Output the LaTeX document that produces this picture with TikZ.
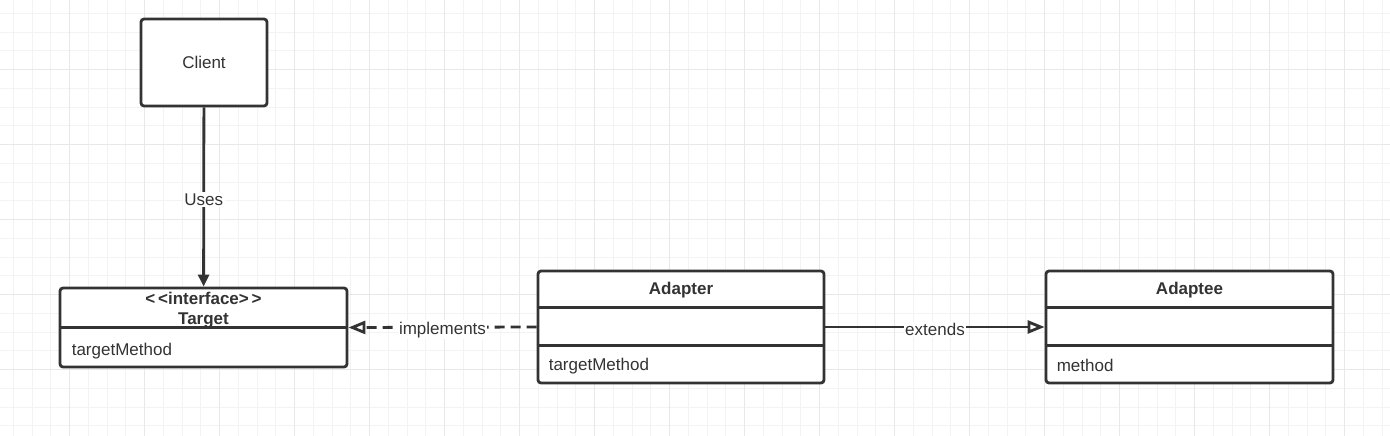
\documentclass[tikz,border=0pt]{standalone}
\usepackage{fontspec}
\setmainfont{Liberation Sans}
\usetikzlibrary{arrows.meta,positioning,calc}

\definecolor{ink}{HTML}{333333}
\definecolor{gridminor}{HTML}{F3F3F3}
\definecolor{gridmajor}{HTML}{E8E8E8}

\tikzset{
	umlbox/.style={draw=ink, line width=2.8pt, rounded corners=3pt, fill=white, inner sep=0pt},
	boxtext/.style={text=ink, inner sep=0pt, font=\fontsize{17}{20}\selectfont},
	titletext/.style={boxtext, align=center, font=\bfseries\fontsize{17}{20}\selectfont},
	edgelabel/.style={boxtext, fill=white, inner sep=1.5pt, yshift=-2.5pt},
	link/.style={draw=ink, line width=2.8pt},
	realize/.style={link, dash pattern=on 10pt off 6pt},
	openhead/.style={-{Triangle[open, fill=white, width=13pt, length=17pt]}},
	usehead/.style={-{Triangle[width=11pt, length=12pt]}},
}

\begin{document}
\begin{tikzpicture}[x=1pt, y=-1pt]
			%%%%% GRID %%%%%
			\useasboundingbox (0,0) rectangle (1390,436);
			\fill[white] (0,0) rectangle (1390,436);
			\foreach \i in {0,...,73} {
				\draw[gridminor, line width=1pt] ({13.3+18.75*\i},0) -- ++(0,436);
			}
			\foreach \j in {0,...,22} {
				\draw[gridminor, line width=1pt] (0,{13.3+18.75*\j}) -- ++(1390,0);
			}
			\foreach \i in {0,...,18} {
				\draw[gridmajor, line width=1pt] ({69.7+75*\i},0) -- ++(0,436);
			}
			\foreach \j in {0,...,5} {
				\draw[gridmajor, line width=1pt] (0,{69.7+75*\j}) -- ++(1390,0);
			}
			
			%%%%% CLASSES %%%%%
			\node[umlbox, boxtext, minimum width=126pt, minimum height=87pt] (client) at (204, 62.5) {Client};
			
			\node[umlbox, minimum width=287pt, minimum height=79pt] (target) at (203.5, 327.5) {};
			\draw[link] ([yshift=-41pt]target.north west) -- ([yshift=-41pt]target.north east);
			\node[titletext] (targettitle) at ($(target.north)+(0,24)$) {{<}\,{<}interface{>}\,{>}\\Target};
			\node[boxtext, anchor=west] (targetop) at ($(target.south west)+(13,-17)$) {targetMethod};
			
			\node[umlbox, minimum width=286pt, minimum height=112pt] (adapter) at (681, 327) {};
			\draw[link] ([yshift=-38pt]adapter.north west) -- ([yshift=-38pt]adapter.north east);
			\draw[link] ([yshift=-76pt]adapter.north west) -- ([yshift=-76pt]adapter.north east);
			\node[titletext] (adaptertitle) at ($(adapter.north)+(0,21)$) {Adapter};
			\node[boxtext, anchor=west] (adapterop) at ($(adapter.south west)+(12,-18)$) {targetMethod};
			
			\node[umlbox, minimum width=287pt, minimum height=112pt] (adaptee) at (1189.5, 327) {};
			\draw[link] ([yshift=-38pt]adaptee.north west) -- ([yshift=-38pt]adaptee.north east);
			\draw[link] ([yshift=-76pt]adaptee.north west) -- ([yshift=-76pt]adaptee.north east);
			\node[titletext] (adapteetitle) at ($(adaptee.north)+(0,21)$) {Adaptee};
			\node[boxtext, anchor=west] (adapteeop) at ($(adaptee.south west)+(12,-19)$) {method};
			
			%%%%% RELATIONS %%%%%
			\draw[link, usehead] (client) -- node[edgelabel] {Uses} (target);
			\draw[realize, openhead] (adapter.west) -- node[edgelabel] {implements} (target.east);
			\draw[link, openhead] (adapter.east) -- node[edgelabel] {extends} (adaptee.west);
			
		\end{tikzpicture}
\end{document}
